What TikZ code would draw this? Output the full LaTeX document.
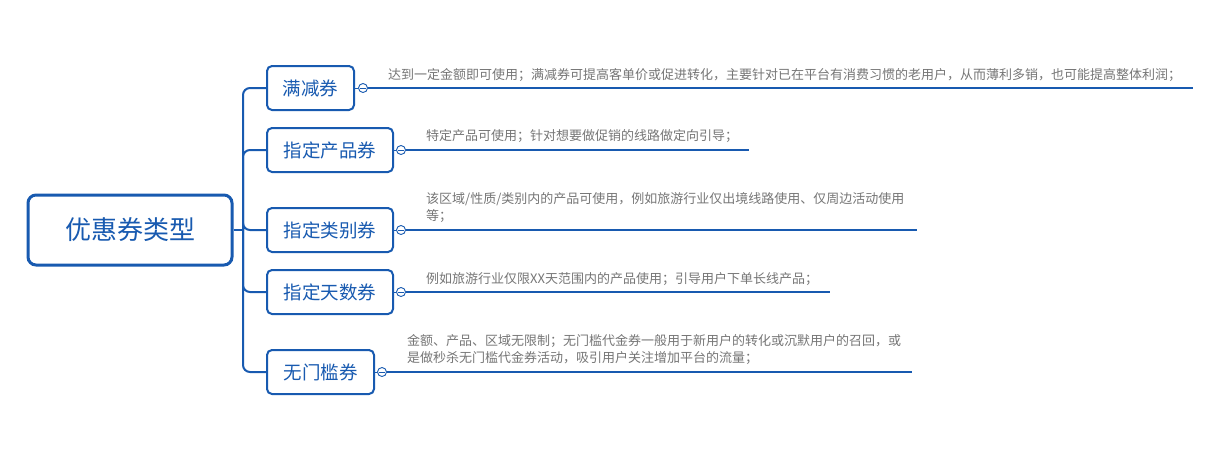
\documentclass[tikz,border=0pt]{standalone}
\usepackage{fontspec}
\setmainfont{Noto Sans CJK SC}
\definecolor{mblue}{RGB}{24,90,176}
\definecolor{tgray}{RGB}{118,118,118}
\begin{document}
\begin{tikzpicture}[x=1pt,y=-1pt,
  rootbox/.style={draw=mblue, line width=3pt, rounded corners=8pt, text=mblue, fill=white,
    minimum width=204pt, minimum height=70pt, inner sep=0pt, font=\fontsize{26}{30}\selectfont},
  cbox/.style={draw=mblue, line width=2pt, rounded corners=5pt, text=mblue, fill=white,
    minimum height=44pt, inner sep=0pt, font=\fontsize{18.5}{22}\selectfont},
  desc/.style={text=tgray, font=\fontsize{13}{17}\selectfont, inner sep=0pt, anchor=west, align=left},
  conn/.style={draw=mblue, line width=2pt},
  trunk/.style={draw=mblue, line width=2pt, rounded corners=7pt},
  collapse/.style={circle, draw=mblue, line width=0.9pt, fill=white, minimum size=9pt, inner sep=0pt,
    path picture={\draw[mblue, line width=0.8pt] ([xshift=-2.6pt]path picture bounding box.center) -- ([xshift=2.6pt]path picture bounding box.center);}}
]
\useasboundingbox (0,0) rectangle (1225,448);
\fill[white] (0,0) rectangle (1225,448);

\node[rootbox] (root) at (130,230) {优惠券类型};
\coordinate (j) at (243,230);

\node[cbox, minimum width=87pt] (b1) at (310.5,88) {满减券};
\node[cbox, minimum width=126pt] (b2) at (330,150) {指定产品券};
\node[cbox, minimum width=126pt] (b3) at (330,230) {指定类别券};
\node[cbox, minimum width=126pt] (b4) at (330,292) {指定天数券};
\node[cbox, minimum width=107pt] (b5) at (320.5,372) {无门槛券};

\draw[conn] (root.east) -- (j);
\foreach \b in {b1,b2,b3,b4,b5}{
  \draw[trunk] (j) |- (\b.west);
}

\node[collapse] (c1) at (363,88) {};
\node[collapse] (c2) at (401,150) {};
\node[collapse] (c3) at (401,230) {};
\node[collapse] (c4) at (401,292) {};
\node[collapse] (c5) at (382,372) {};

\coordinate (e1) at (1193,88);
\coordinate (e2) at (749,150);
\coordinate (e3) at (917,230);
\coordinate (e4) at (830,292);
\coordinate (e5) at (912,372);

\foreach \i in {1,...,5}{
  \draw[conn] (c\i.east) -- (e\i);
  \draw[draw=mblue, line width=1pt] (b\i.east) -- (c\i.west);
}

\node[desc] (d1) at (388,75) {达到一定金额即可使用；满减券可提高客单价或促进转化，主要针对已在平台有消费习惯的老用户，从而薄利多销，也可能提高整体利润；};
\node[desc] (d2) at (426,136) {特定产品可使用；针对想要做促销的线路做定向引导；};
\node[desc] (d3) at (426,207.5) {该区域/性质/类别内的产品可使用，例如旅游行业仅出境线路使用、仅周边活动使用\\等；};
\node[desc] (d4) at (426,279) {例如旅游行业仅限XX天范围内的产品使用；引导用户下单长线产品；};
\node[desc] (d5) at (407,350) {金额、产品、区域无限制；无门槛代金券一般用于新用户的转化或沉默用户的召回，或\\是做秒杀无门槛代金券活动，吸引用户关注增加平台的流量；};
\end{tikzpicture}
\end{document}
